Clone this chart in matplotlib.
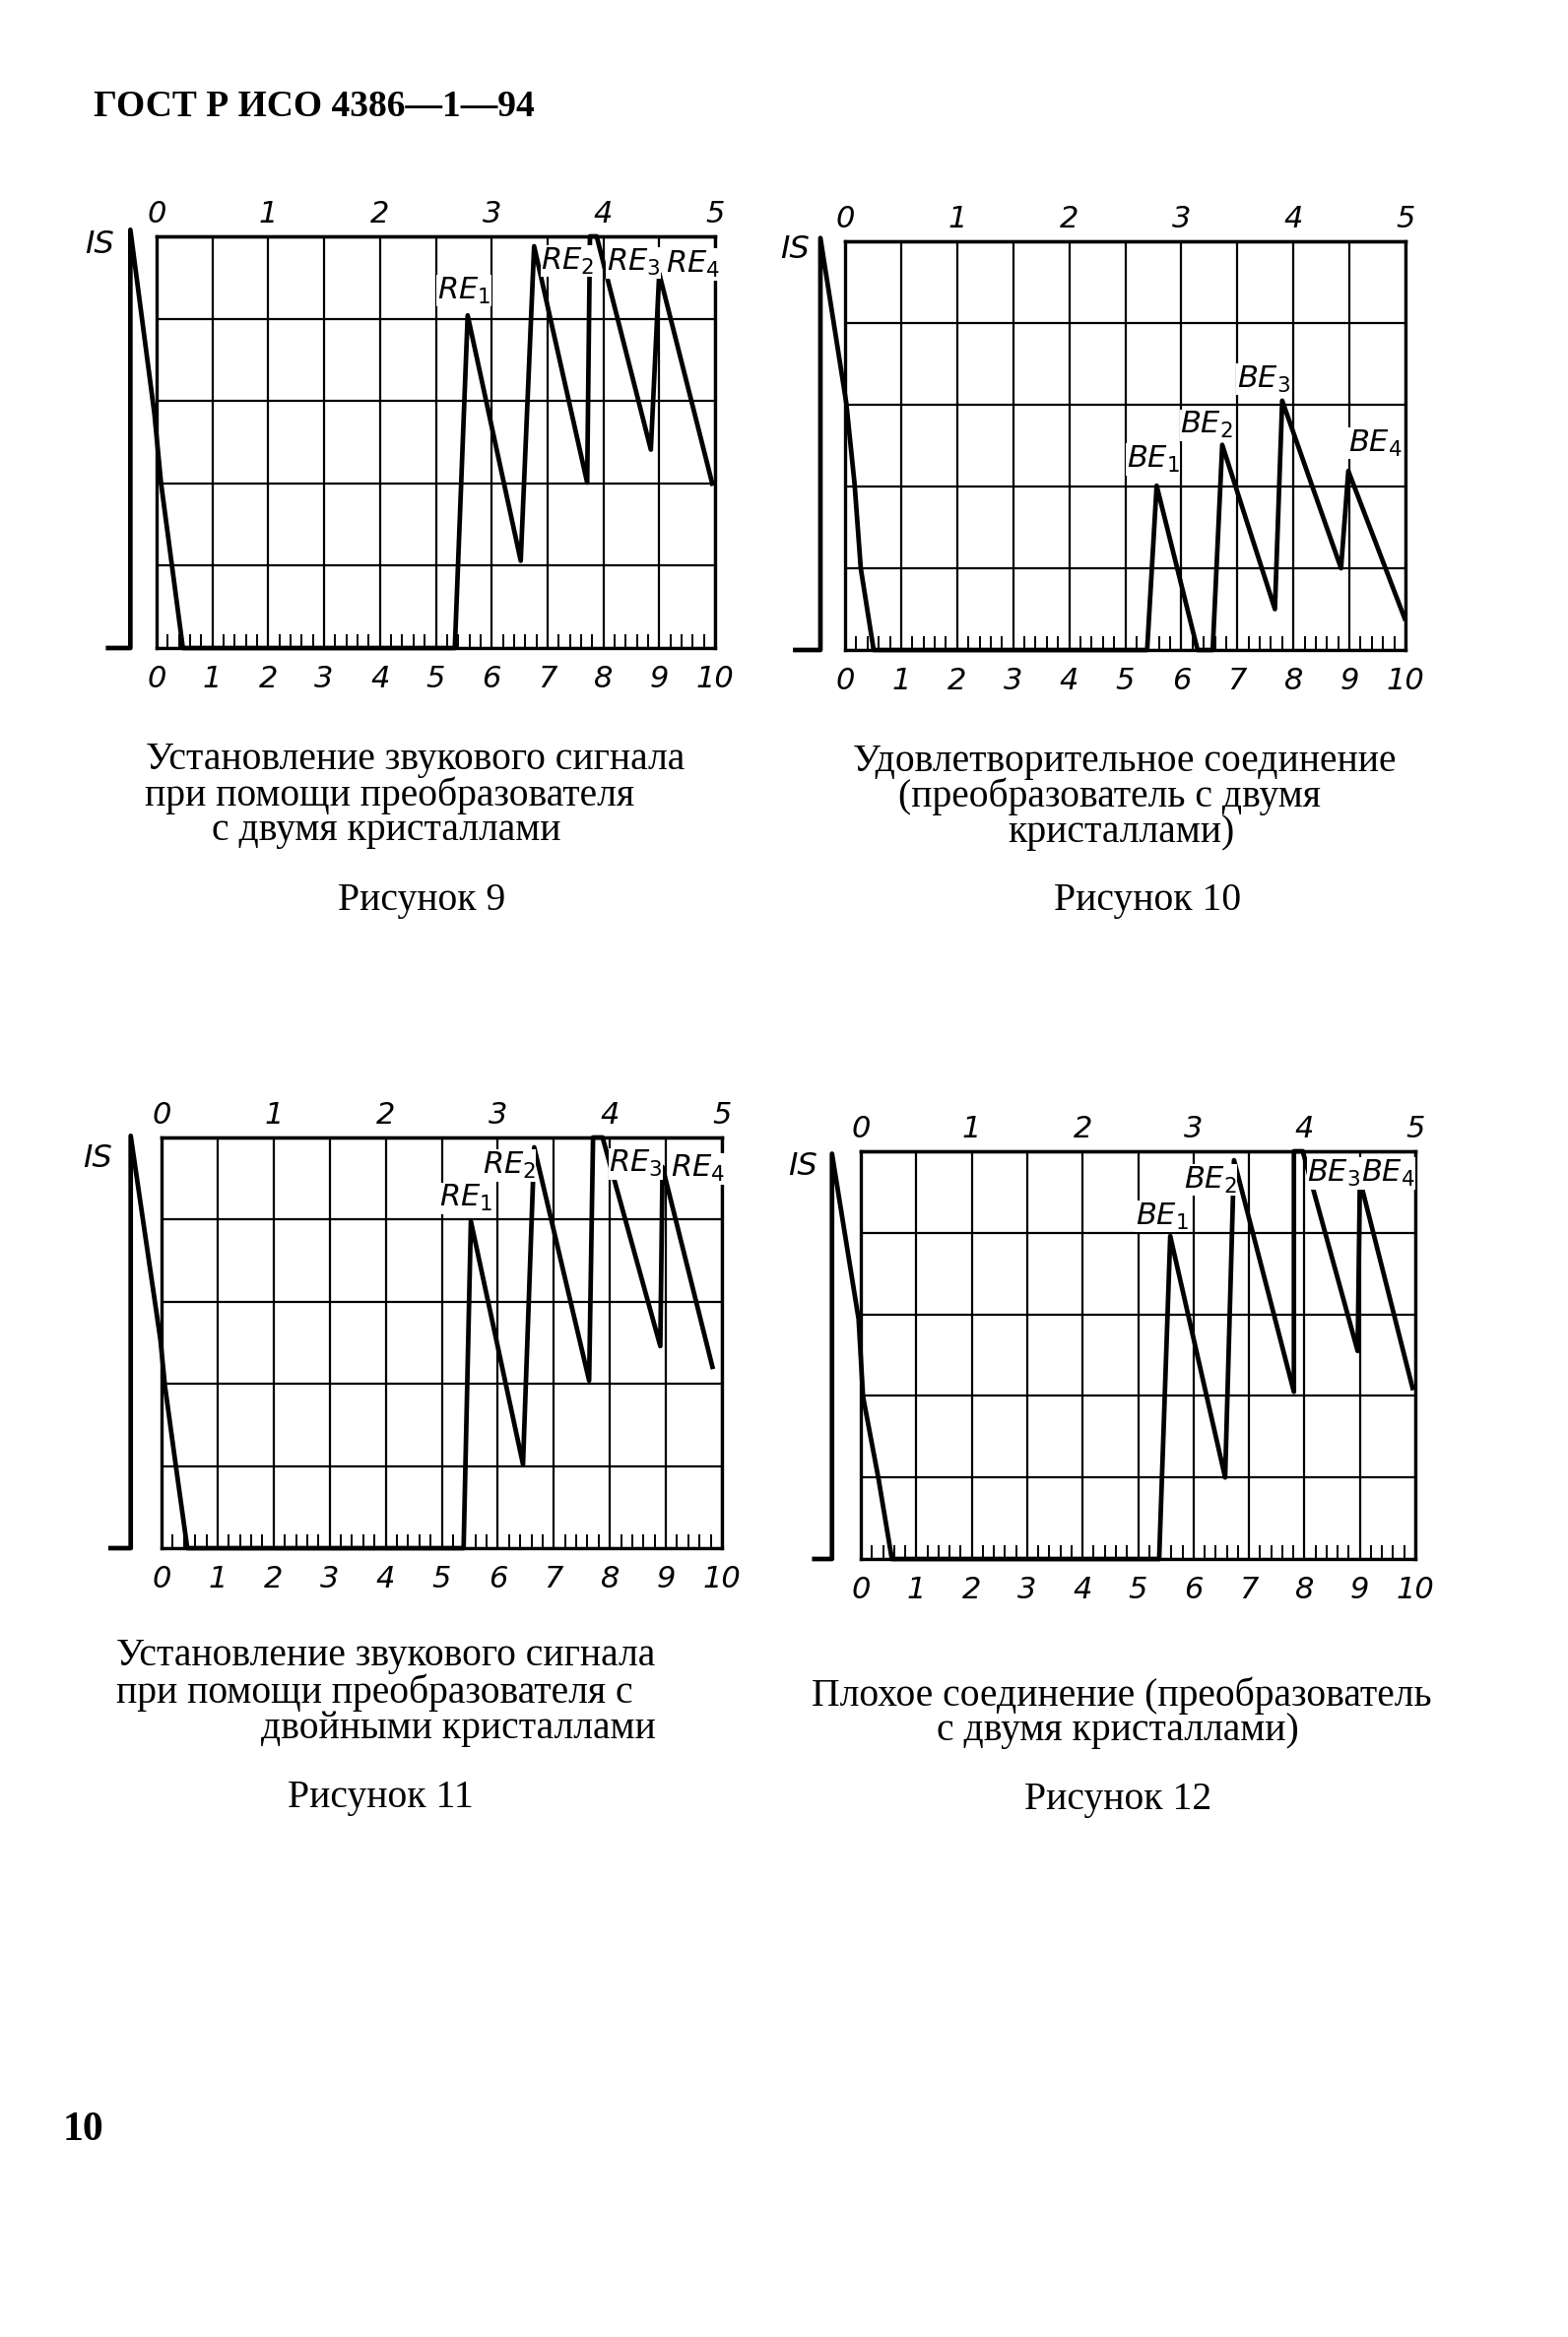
import matplotlib
matplotlib.use("Agg")
import matplotlib.pyplot as plt
from matplotlib.ticker import MultipleLocator

# ---------------- data ----------------
bottom_ticks = [0, 1, 2, 3, 4, 5, 6, 7, 8, 9, 10]
bottom_labels = ["0", "1", "2", "3", "4", "5", "6", "7", "8", "9", "10"]
top_ticks = [0, 2, 4, 6, 8, 10]
top_labels = ["0", "1", "2", "3", "4", "5"]
grid_rows = [0, 1, 2, 3, 4, 5]

# Figure 9 trace
fig9_x = [-0.91, -0.47, -0.47, -0.04, 0.08, 0.47, 5.34, 5.57, 6.52, 6.76, 7.71, 7.76, 7.88, 8.85, 9.0, 9.96]
fig9_y = [0.0, 0.0, 5.08, 2.85, 2.0, 0.0, 0.0, 4.04, 1.06, 4.88, 2.01, 5.0, 5.0, 2.41, 4.55, 1.97]
fig9_echo_names = ["RE_1", "RE_2", "RE_3", "RE_4"]

# Figure 10 trace
fig10_x = [-0.93, -0.44, -0.44, 0.02, 0.17, 0.28, 0.51, 5.39, 5.56, 6.29, 6.56, 6.73, 7.67, 7.80, 8.85, 8.98, 10.0]
fig10_y = [0.0, 0.0, 5.04, 3.03, 2.03, 1.0, 0.0, 0.0, 2.01, 0.0, 0.0, 2.51, 0.5, 3.05, 1.0, 2.19, 0.36]
fig10_echo_names = ["BE_1", "BE_2", "BE_3", "BE_4"]

# Figure 11 trace
fig11_x = [-0.95, -0.55, -0.55, -0.02, 0.06, 0.26, 0.46, 5.39, 5.52, 6.45, 6.65, 7.63, 7.70, 7.87, 8.9, 8.94, 9.84]
fig11_y = [0.0, 0.0, 5.02, 2.54, 1.98, 0.98, 0.0, 0.0, 3.98, 1.02, 4.88, 2.04, 5.0, 5.0, 2.46, 4.64, 2.18]
fig11_echo_names = ["RE_1", "RE_2", "RE_3", "RE_4"]

# Figure 12 trace
fig12_x = [-0.88, -0.52, -0.52, -0.04, 0.04, 0.32, 0.56, 5.38, 5.58, 6.57, 6.73, 7.81, 7.81, 7.97, 8.96, 9.0, 9.96]
fig12_y = [0.0, 0.0, 4.97, 2.94, 1.99, 0.98, 0.0, 0.0, 3.96, 1.0, 4.89, 2.05, 5.0, 5.0, 2.55, 4.65, 2.07]
fig12_echo_names = ["BE_1", "BE_2", "BE_3", "BE_4"]

header_text = "ГОСТ Р ИСО 4386—1—94"
page_number = "10"
caption9 = ["Установление звукового сигнала", "при помощи преобразователя", "с двумя кристаллами"]
caption10 = ["Удовлетворительное соединение", "(преобразователь с двумя", "кристаллами)"]
caption11 = ["Установление звукового сигнала", "при помощи преобразователя с", "двойными кристаллами"]
caption12 = ["Плохое соединение (преобразователь", "с двумя кристаллами)"]
fig_titles = ["Рисунок 9", "Рисунок 10", "Рисунок 11", "Рисунок 12"]

# ---------------- layout ----------------
W, H, DPI = 1592, 2373, 100
fig = plt.figure(figsize=(W / DPI, H / DPI), dpi=DPI, facecolor="white")

plt.rcParams["mathtext.fontset"] = "dejavusans"
TICKFONT = dict(family=["Liberation Sans Narrow", "DejaVu Sans"], style="italic", size=22)
SERIF = ["Liberation Serif", "DejaVu Serif"]


def ftext(x, y, s, **kw):
    return fig.text(x / W, 1 - y / H, s, va="center", **kw)


def make_panel(rect, xs, ys, names, name_pos, is_pos):
    x0, y0, x1, y1 = rect
    ax = fig.add_axes([x0 / W, 1 - y1 / H, (x1 - x0) / W, (y1 - y0) / H])
    ax.set_xlim(0, 10)
    ax.set_ylim(0, 5)
    ax.set_facecolor("none")
    ax.set_xticks(bottom_ticks)
    ax.set_xticklabels(bottom_labels, fontdict=TICKFONT)
    ax.set_yticks(grid_rows)
    ax.set_yticklabels([])
    ax.xaxis.set_minor_locator(MultipleLocator(0.2))
    ax.tick_params(axis="x", which="major", length=0, pad=12)
    ax.tick_params(axis="x", which="minor", direction="in", length=10, width=1.4, color="black")
    ax.tick_params(axis="y", length=0)
    ax.grid(True, which="major", color="black", lw=1.6)
    for sp in ax.spines.values():
        sp.set_linewidth(2.4)
    sec = ax.secondary_xaxis("top")
    sec.set_xticks(top_ticks)
    sec.set_xticklabels(top_labels, fontdict=TICKFONT)
    sec.tick_params(length=0, pad=6)
    sec.spines["top"].set_linewidth(2.4)
    ax.plot(xs, ys, color="black", lw=3.4, clip_on=False, solid_joinstyle="round",
            solid_capstyle="butt", zorder=5)
    for nm, (tx, ty) in zip(names, name_pos):
        base, sub = nm.split("_")
        ax.text(tx, ty, r"$\mathit{%s}_{%s}$" % (base, sub), ha="center", va="center",
                fontsize=22, zorder=6, clip_on=False,
                bbox=dict(facecolor="white", edgecolor="none", pad=0.5))
    ax.text(is_pos[0], is_pos[1], "IS", ha="center", va="center", clip_on=False,
            fontdict=dict(family=["Liberation Sans Narrow", "DejaVu Sans"], style="italic", size=23))
    return ax


make_panel((159, 240, 726, 658), fig9_x, fig9_y, fig9_echo_names,
           [(5.5, 4.34), (7.36, 4.7), (8.54, 4.68), (9.6, 4.66)], (-1.03, 4.9))
make_panel((858, 245, 1427, 660), fig10_x, fig10_y, fig10_echo_names,
           [(5.5, 2.33), (6.45, 2.75), (7.47, 3.31), (9.46, 2.53)], (-0.89, 4.9))
make_panel((164, 1155, 733, 1572), fig11_x, fig11_y, fig11_echo_names,
           [(5.43, 4.26), (6.2, 4.66), (8.46, 4.68), (9.57, 4.62)], (-1.14, 4.74))
make_panel((874, 1169, 1437, 1583), fig12_x, fig12_y, fig12_echo_names,
           [(5.43, 4.2), (6.3, 4.65), (8.53, 4.73), (9.5, 4.73)], (-1.04, 4.81))

# header and page number
ftext(95, 109, header_text, ha="left", family=SERIF, weight="bold", size=27)
ftext(64, 2163, page_number, ha="left", family=SERIF, weight="bold", size=30)

CAP = dict(family=SERIF, size=28.5)
# captions fig 9
ftext(422, 772, caption9[0], ha="center", **CAP)
ftext(396, 808, caption9[1], ha="center", **CAP)
ftext(392, 844, caption9[2], ha="center", **CAP)
ftext(428, 914, fig_titles[0], ha="center", **CAP)
# fig 10
ftext(1142, 773, caption10[0], ha="center", **CAP)
ftext(1127, 809, caption10[1], ha="center", **CAP)
ftext(1138, 846, caption10[2], ha="center", **CAP)
ftext(1165, 914, fig_titles[1], ha="center", **CAP)
# fig 11
ftext(118, 1682, caption11[0], ha="left", **CAP)
ftext(118, 1719, caption11[1], ha="left", **CAP)
ftext(666, 1755, caption11[2], ha="right", **CAP)
ftext(386, 1825, fig_titles[2], ha="center", **CAP)
# fig 12
ftext(1139, 1722, caption12[0], ha="center", **CAP)
ftext(1135, 1758, caption12[1], ha="center", **CAP)
ftext(1135, 1828, fig_titles[3], ha="center", **CAP)

fig.savefig("out.png", dpi=DPI, facecolor="white")
